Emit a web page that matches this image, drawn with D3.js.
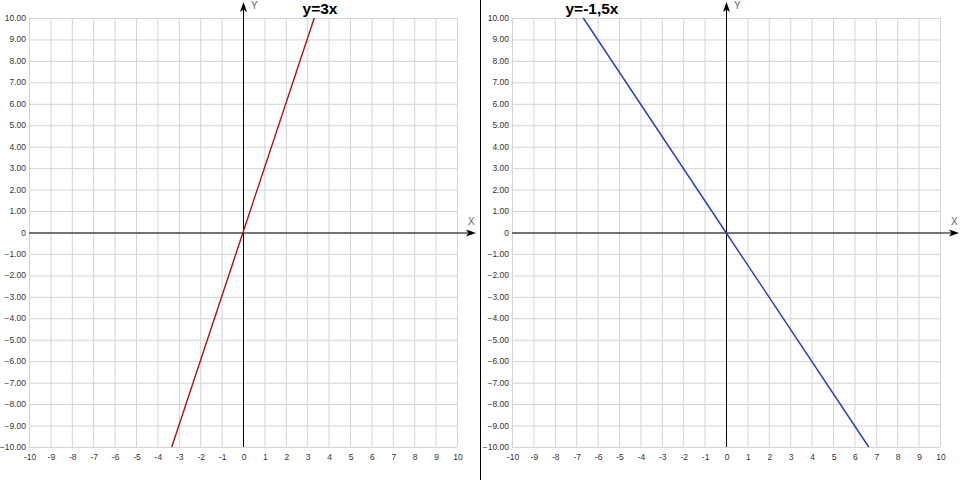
<!DOCTYPE html>
<html>
<head>
<meta charset="utf-8">
<script src="https://cdn.jsdelivr.net/npm/d3@7"></script>
<style>
  body { margin: 0; background: #fff; }
  svg { display: block; }
  .tick-label { font-family: "Liberation Sans", Arial, sans-serif; font-size: 8.5px; fill: #333; }
  .axis-name { font-family: "Liberation Sans", Arial, sans-serif; font-size: 10px; fill: #666; }
  .title { font-family: "Liberation Sans", Arial, sans-serif; font-size: 15.5px; font-weight: bold; fill: #000; }
</style>
</head>
<body>
<svg id="chart" width="962" height="480"></svg>
<script>
const xTicks = d3.range(-10, 11);
const yTicks = d3.range(-10, 11);
const titles = ['y=3x', 'y=-1,5x'];
const lineColors = ['#b01010', '#1a3fc0'];
// points (where each line meets the plot frame)
const leftLine = [{x: -3.33, y: -10}, {x: 0, y: 0}, {x: 3.33, y: 10}];
const rightLine = [{x: -6.67, y: 10}, {x: 0, y: 0}, {x: 6.67, y: -10}];

const svg = d3.select('#chart');

function yLabel(v) {
    return v === 0 ? '0' : d3.format('.2f')(v);
}

function plotPanel(left, data, title, color, titleX) {
    const x = d3.scaleLinear().domain([-10, 10]).range([left, left + 428]);
    const y = d3.scaleLinear().domain([-10, 10]).range([447, 18]);
    const g = svg.append('g');

    // grid
    g.selectAll('.vgrid').data(xTicks).enter().append('line')
        .attr('x1', d => x(d) + 0.5).attr('x2', d => x(d) + 0.5)
        .attr('y1', y(10)).attr('y2', y(-10))
        .attr('stroke', '#d4d4d4').attr('stroke-width', 1);
    g.selectAll('.hgrid').data(yTicks).enter().append('line')
        .attr('y1', d => y(d) + 0.5).attr('y2', d => y(d) + 0.5)
        .attr('x1', x(-10)).attr('x2', x(10))
        .attr('stroke', '#d4d4d4').attr('stroke-width', 1);

    // tick labels
    g.selectAll('.ylab').data(yTicks).enter().append('text')
        .attr('class', 'tick-label')
        .attr('x', x(-10) - 3).attr('y', d => y(d) + 3)
        .attr('text-anchor', 'end')
        .text(yLabel);
    g.selectAll('.xlab').data(xTicks).enter().append('text')
        .attr('class', 'tick-label')
        .attr('x', d => x(d) + 1).attr('y', y(-10) + 13)
        .attr('text-anchor', 'middle')
        .text(d => d);

    // axes with arrows
    g.append('line')
        .attr('x1', x(-10)).attr('x2', x(10) + 16)
        .attr('y1', y(0) + 0.5).attr('y2', y(0) + 0.5)
        .attr('stroke', '#000').attr('stroke-width', 1);
    g.append('path')
        .attr('d', 'M' + (x(10) + 19) + ',' + (y(0) + 0.5) + 'l-10,-3.5l2.5,3.5l-2.5,3.5z')
        .attr('fill', '#000');
    g.append('line')
        .attr('x1', x(0) + 0.5).attr('x2', x(0) + 0.5)
        .attr('y1', y(-10)).attr('y2', y(10) - 13)
        .attr('stroke', '#000').attr('stroke-width', 1);
    g.append('path')
        .attr('d', 'M' + (x(0) + 0.5) + ',' + (y(10) - 16) + 'l-3.5,10l3.5,-2.5l3.5,2.5z')
        .attr('fill', '#000');
    g.append('text').attr('class', 'axis-name')
        .attr('x', x(10) + 11).attr('y', y(0) - 8).text('X');
    g.append('text').attr('class', 'axis-name')
        .attr('x', x(0) + 8).attr('y', y(10) - 9).text('Y');

    // function line
    g.append('path')
        .datum(data)
        .attr('d', d3.line().x(d => x(d.x)).y(d => y(d.y)))
        .attr('fill', 'none')
        .attr('stroke', color)
        .attr('stroke-width', 1.4);

    g.append('text').attr('class', 'title')
        .attr('x', titleX).attr('y', 14)
        .attr('text-anchor', 'middle')
        .text(title);
}

plotPanel(29, leftLine, titles[0], lineColors[0], 320);
plotPanel(512, rightLine, titles[1], lineColors[1], 592);

// divider between the two panels
svg.append('line')
    .attr('x1', 480.5).attr('x2', 480.5)
    .attr('y1', 0).attr('y2', 480)
    .attr('stroke', '#000').attr('stroke-width', 1);
</script>
</body>
</html>
